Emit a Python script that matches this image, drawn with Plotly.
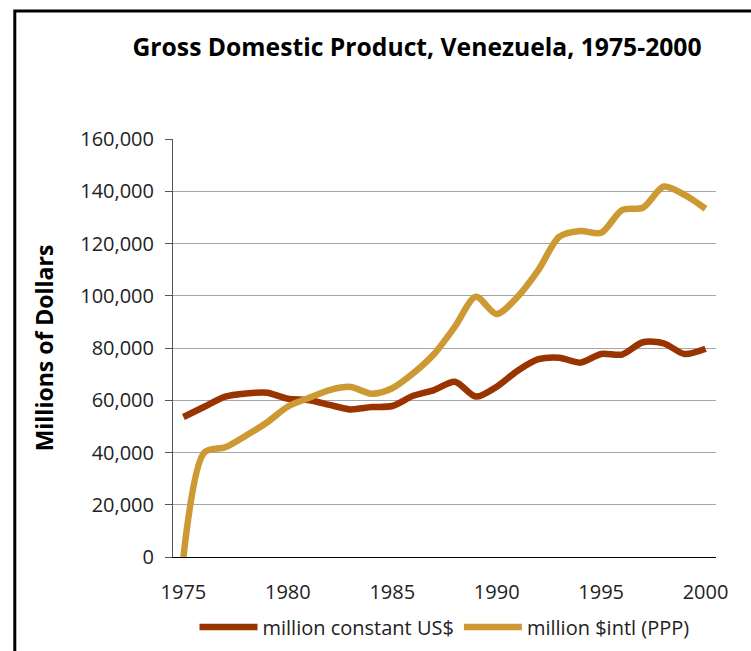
import plotly.graph_objects as go

years = list(range(1975, 2001))
constant_usd = [53.6, 57.5, 61.4, 62.6, 62.9, 60.6, 60.1, 58.2, 56.5, 57.4, 57.8, 61.7, 63.9,
                67.1, 61.4, 65.2, 71.3, 75.7, 76.3, 74.4, 77.7, 77.5, 82.2, 81.8, 77.7, 79.7]
intl_ppp = [0.0, 40.0, 42.0, 46.5, 51.5, 57.6, 60.9, 63.9, 65.1, 62.5, 64.6, 70.3, 77.7,
            88.2, 99.6, 93.0, 99.6, 109.9, 122.6, 124.8, 124.1, 132.8, 133.7, 141.8, 138.6, 133.3]
constant_usd = [v * 1000 for v in constant_usd]
intl_ppp = [v * 1000 for v in intl_ppp]
series_names = ["million constant US$", "million $intl (PPP)"]
x_ticks = [1975, 1980, 1985, 1990, 1995, 2000]
y_ticks = list(range(0, 160001, 20000))

FONT = "Open Sans"
fig = go.Figure()
fig.add_trace(go.Scatter(x=years, y=constant_usd, name=series_names[0], mode="lines",
                         line=dict(color="#993300", width=6.5, shape="spline", smoothing=0.8)))
fig.add_trace(go.Scatter(x=years, y=intl_ppp, name=series_names[1], mode="lines",
                         line=dict(color="#CC9933", width=6.5, shape="spline", smoothing=0.8)))

L, R, T, B = 172.5, 751 - 716.5, 139, 651 - 557
PW, PH = 751 - L - R, 651 - T - B

def px(x):
    return (x - L) / PW

def py(y):
    return (651 - B - y) / PH

fig.update_layout(
    width=751, height=651,
    margin=dict(l=L, r=R, t=T, b=B, pad=0, autoexpand=False),
    paper_bgcolor="white", plot_bgcolor="white",
    font=dict(family=FONT, size=20, color="#222222"),
    title=dict(text="<b>Gross Domestic Product, Venezuela, 1975-2000</b>",
               x=px(417), xref="paper", xanchor="center",
               y=1 - 47 / 651, yref="container", yanchor="middle",
               font=dict(family=FONT, size=24.7, color="black")),
    xaxis=dict(range=[1974.5, 2000.5], tickvals=x_ticks, ticks="", showgrid=False,
               showline=True, linecolor="black", linewidth=1.2, zeroline=False,
               tickfont=dict(size=20, color="#222222"), ticklabelstandoff=17),
    yaxis=dict(range=[0, 160000], tickvals=y_ticks, tickformat=",d", showgrid=True,
               gridcolor="#a6a6a6", gridwidth=1, showline=True, linecolor="#555555",
               linewidth=1, ticks="outside", ticklen=7, tickcolor="#555555",
               zeroline=False, tickfont=dict(size=20, color="#222222"),
               ticklabelstandoff=7,
               title=dict(text="<b>Millions of Dollars</b>", standoff=20,
                          font=dict(family=FONT, size=23, color="black"))),
    legend=dict(orientation="h", x=0.5, xanchor="center", y=py(627), yanchor="middle",
                font=dict(size=20, color="#222222"), itemwidth=58, tracegroupgap=0,
                bgcolor="rgba(0,0,0,0)"),
    showlegend=True,
    shapes=[dict(type="rect", xref="paper", yref="paper",
                 x0=px(14), x1=px(780), y0=py(680), y1=py(11),
                 line=dict(color="black", width=3), layer="below")],
)

fig.write_html("out.html", config={"displayModeBar": False},
               post_script="document.body.style.margin='0';")
